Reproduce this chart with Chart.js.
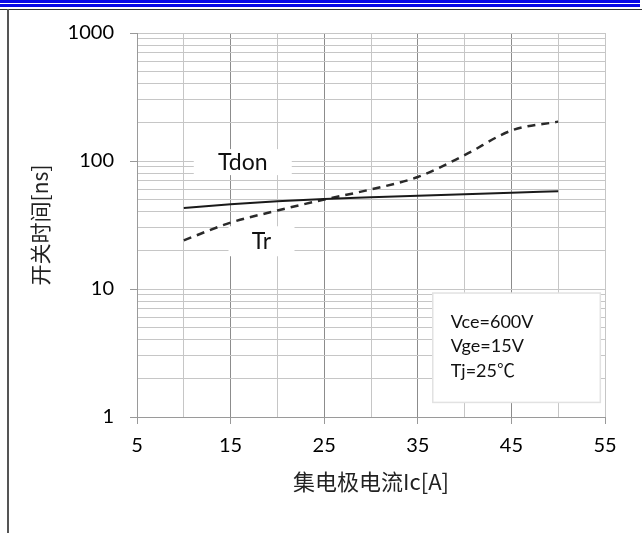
<!DOCTYPE html>
<html>
<head>
<meta charset="utf-8">
<script src="https://cdn.jsdelivr.net/npm/chart.js@4.4.1/dist/chart.umd.min.js"></script>
<style>
  html, body { margin: 0; padding: 0; background: #fff; }
  #wrap { position: relative; width: 642px; height: 533px; overflow: hidden; }
  #chart { position: absolute; left: 0; top: 0; }
  .blue1 { position: absolute; left: 0; top: 0; width: 640px; height: 3px; background: #0a0ae6; }
  .blue2 { position: absolute; left: 0; top: 4px; width: 640px; height: 3px; background: #0a0ae6; }
  .rule { position: absolute; left: 0; top: 9px; width: 642px; height: 1px; background: #333; }
  .side { position: absolute; left: 7px; top: 9px; width: 2px; height: 524px; background: #555; }
</style>
</head>
<body>
<div id="wrap">
  <canvas id="chart" width="642" height="533"></canvas>
  <div class="blue1"></div>
  <div class="blue2"></div>
  <div class="rule"></div>
  <div class="side"></div>
</div>
<script>
// datos
const corriente = [10, 15, 20, 25, 30, 35, 40, 45, 50];
const tdon = [43, 46, 48.5, 50.5, 52, 53.5, 55, 56.5, 58];
const tr = [24, 33, 41, 50, 60, 75, 111, 173, 203];

const xTickLabels = [5, 15, 25, 35, 45, 55];
const yTickLabels = [1, 10, 100, 1000];
const condiciones = ["Vce=600V", "Vge=15V", "Tj=25\u2103"];

const fuente = 'Lato, "Noto Sans CJK SC", sans-serif';
const fuenteCJK = '"Noto Sans CJK SC", Lato, sans-serif';

// lineas de rejilla del eje log: 1..9 en cada decada
const yGrid = [];
yTickLabels.forEach((d, i) => {
  if (i === yTickLabels.length - 1) { yGrid.push(d); return; }
  for (let k = 1; k < 10; k++) yGrid.push(d * k);
});

const toXY = (ys) => corriente.map((x, i) => ({ x: x, y: ys[i] }));

// etiquetas y cuadro de condiciones
const anotaciones = {
  id: "anotaciones",
  beforeDatasetsDraw(chart) {
    const { ctx, scales } = chart;
    const xs = scales.x, ys = scales.y;
    ctx.save();

    function etiqueta(texto, xv, yv, w, h) {
      const px = xs.getPixelForValue(xv);
      const py = ys.getPixelForValue(yv);
      ctx.fillStyle = "#fff";
      ctx.fillRect(px - w / 2, py - h / 2, w, h);
      ctx.fillStyle = "#111";
      ctx.font = "23px " + fuente;
      ctx.textAlign = "center";
      ctx.textBaseline = "middle";
      ctx.fillText(texto, px, py);
    }
    etiqueta("Tdon", 16.3, 98, 98, 26);
    etiqueta("Tr", 18.3, 23.6, 66, 30);

    // cuadro
    const x0 = xs.getPixelForValue(36.6), x1 = xs.getPixelForValue(54.5);
    const y0 = ys.getPixelForValue(9.3), y1 = ys.getPixelForValue(1.3);
    ctx.fillStyle = "#fff";
    ctx.fillRect(x0, y0, x1 - x0, y1 - y0);
    ctx.strokeStyle = "#e2e2e2";
    ctx.lineWidth = 1.5;
    ctx.strokeRect(x0, y0, x1 - x0, y1 - y0);
    ctx.fillStyle = "#111";
    ctx.font = "18px " + fuente;
    ctx.textAlign = "left";
    ctx.textBaseline = "middle";
    condiciones.forEach((t, i) => {
      ctx.fillText(t, x0 + 18, y0 + 29 + i * 24.5);
    });
    ctx.restore();
  }
};

const ctx = document.getElementById("chart");

new Chart(ctx, {
  type: "line",
  data: {
    datasets: [
      {
        label: "Tdon",
        data: toXY(tdon),
        borderColor: "#1a1a1a",
        borderWidth: 2,
        pointRadius: 0,
        tension: 0.4,
        cubicInterpolationMode: "monotone",
      },
      {
        label: "Tr",
        data: toXY(tr),
        borderColor: "#2a2a2a",
        borderWidth: 2.5,
        borderDash: [8, 6],
        pointRadius: 0,
        tension: 0.4,
        cubicInterpolationMode: "monotone",
      },
    ],
  },
  options: {
    responsive: false,
    animation: false,
    layout: { padding: { left: 27, top: 33, right: 37, bottom: 38 } },
    plugins: {
      legend: { display: false },
      tooltip: { enabled: false },
    },
    scales: {
      x: {
        type: "linear",
        min: 5,
        max: 55,
        afterFit(scale) { scale.height = 78; },
        ticks: {
          stepSize: 5,
          autoSkip: false,
          maxRotation: 0,
          padding: 10,
          color: "#000",
          font: { family: fuente, size: 20 },
          callback: (v) => (xTickLabels.includes(v) ? String(v) : ""),
        },
        grid: {
          tickLength: 7,
          color: (c) => (c.tick && xTickLabels.includes(c.tick.value) && c.tick.value !== 5 && c.tick.value !== 55 ? "#8c8c8c" : "#c6c6c6"),
          tickColor: (c) => (c.tick && xTickLabels.includes(c.tick.value) ? "#999" : "rgba(0,0,0,0)"),
        },
        border: { color: "#9a9a9a" },
        title: {
          display: true,
          text: "集电极电流Ic[A]",
          color: "#222",
          padding: 0,
          font: { family: fuenteCJK, size: 22 },
        },
      },
      y: {
        type: "logarithmic",
        min: 1,
        max: 1000,
        afterFit(scale) { scale.width = 110; },
        afterBuildTicks(scale) {
          scale.ticks = yGrid.map((v) => ({ value: v, major: yTickLabels.includes(v) }));
        },
        ticks: {
          autoSkip: false,
          padding: 16,
          color: "#000",
          font: { family: fuente, size: 20 },
          callback: (v) => (yTickLabels.includes(v) ? String(v) : ""),
        },
        grid: {
          tickLength: 7,
          color: "#c6c6c6",
          tickColor: (c) => (c.tick && yTickLabels.includes(c.tick.value) ? "#999" : "rgba(0,0,0,0)"),
        },
        border: { color: "#9a9a9a" },
        title: {
          display: true,
          text: "开关时间[ns]",
          color: "#222",
          padding: 0,
          font: { family: fuenteCJK, size: 21 },
        },
      },
    },
  },
  plugins: [anotaciones],
});
</script>
</body>
</html>
